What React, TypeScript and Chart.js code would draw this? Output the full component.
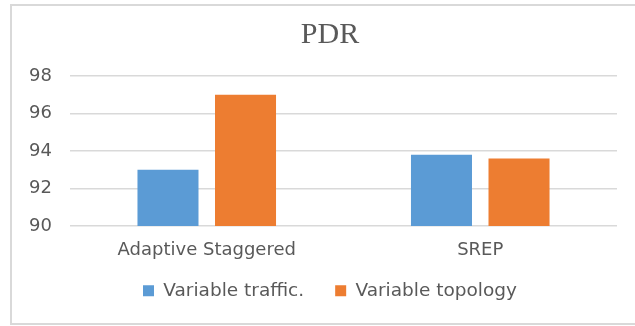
import React, { useEffect, useRef } from "react";
import { Chart, registerables } from "chart.js";

Chart.register(...registerables);

const categories = ["Adaptive Staggered", "SREP"];
const variableTraffic = [93, 93.8];
const variableTopology = [97, 93.6];
const seriesNames = ["Variable traffic.", "Variable topology"];
const yMin = 90;
const yMax = 98;
const yStep = 2;

const BLUE = "#5B9BD5";
const ORANGE = "#ED7D31";
const TEXT = "#595959";
const GRID = "#D9D9D9";

// Let axis labels spill past their boxes instead of being clipped.
const unclipAxisLabels = {
  id: "unclipAxisLabels",
  afterLayout(chart: any) {
    const { x, y } = chart.scales;
    if (y) y.left = 0;
    if (x) x.bottom = chart.height;
  },
};

export default function App() {
  const canvasRef = useRef<HTMLCanvasElement | null>(null);

  useEffect(() => {
    const canvas = canvasRef.current;
    if (!canvas) return;
    const chart = new Chart(canvas, {
      type: "bar",
      data: {
        labels: categories,
        datasets: [
          {
            label: seriesNames[0],
            data: variableTraffic,
            backgroundColor: BLUE,
            borderWidth: 0,
          },
          {
            label: seriesNames[1],
            data: variableTopology,
            backgroundColor: ORANGE,
            borderWidth: 0,
          },
        ],
      },
      options: {
        responsive: false,
        animation: false,
        maintainAspectRatio: false,
        datasets: {
          bar: { categoryPercentage: 0.567, barPercentage: 0.787 },
        },
        layout: { padding: { left: 43, right: 18, top: 0, bottom: 0 } },
        scales: {
          x: {
            grid: { display: false, drawTicks: false },
            border: { display: false },
            afterFit: (scale: any) => {
              scale.height = 24.5;
            },
            ticks: {
              color: TEXT,
              padding: 15,
              font: { family: "DejaVu Sans", size: 18, lineHeight: 1 },
            },
          },
          y: {
            min: yMin,
            max: yMax,
            grid: { color: GRID, lineWidth: 1.5, drawTicks: false },
            border: { display: false },
            afterFit: (scale: any) => {
              scale.width = 27;
            },
            ticks: {
              stepSize: yStep,
              color: TEXT,
              padding: 18,
              font: { family: "DejaVu Sans", size: 18 },
            },
          },
        },
        plugins: {
          title: {
            display: true,
            text: "PDR",
            color: TEXT,
            font: { family: "Liberation Serif", size: 30, weight: "normal" },
            padding: { top: 17, bottom: 23 },
          },
          legend: {
            position: "bottom",
            labels: {
              boxWidth: 11,
              boxHeight: 11,
              padding: 31,
              color: TEXT,
              font: { family: "DejaVu Sans", size: 18.5 },
            },
          },
          tooltip: { enabled: false },
        },
      },
      plugins: [unclipAxisLabels],
    });
    return () => chart.destroy();
  }, []);

  return (
    <div
      style={{
        position: "fixed",
        left: 0,
        top: 0,
        width: 635,
        height: 326,
        overflow: "hidden",
        background: "#ffffff",
      }}
    >
      <div
        style={{
          position: "absolute",
          left: 10,
          top: 4,
          width: 660,
          height: 317,
          border: "2px solid #D9D9D9",
        }}
      />
      <canvas
        ref={canvasRef}
        width={635}
        height={310}
        style={{ position: "absolute", left: 0, top: 0 }}
      />
    </div>
  );
}
